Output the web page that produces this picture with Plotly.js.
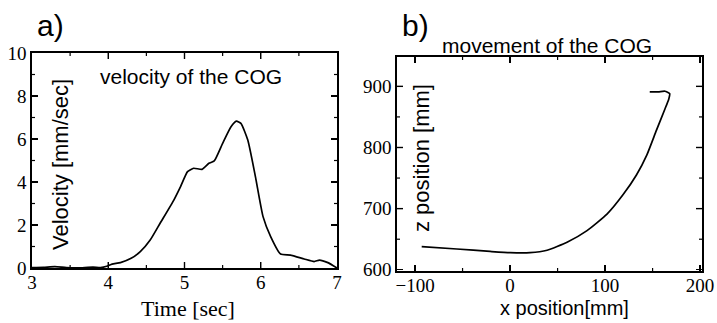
<!DOCTYPE html>
<html>
<head>
<meta charset="utf-8">
<script src="https://cdn.plot.ly/plotly-3.0.1.min.js"></script>
<style>html,body{margin:0;padding:0;background:#fff;}#chart{width:717px;height:323px;}</style>
</head>
<body>
<div id="chart"></div>
<script>
// Panel a: velocity of the COG
const timeSec = [3.0, 3.15, 3.3, 3.45, 3.6, 3.8, 3.9, 3.98, 4.05, 4.16, 4.3, 4.42, 4.55, 4.68, 4.86, 4.95, 5.04, 5.12, 5.23, 5.32, 5.39, 5.5, 5.61, 5.68, 5.74, 5.83, 5.93, 6.03, 6.13, 6.26, 6.39, 6.57, 6.7, 6.77, 6.88, 7.0];
const velocity = [0.02, 0.03, 0.06, 0.02, 0.01, 0.04, 0.02, 0.08, 0.18, 0.25, 0.45, 0.76, 1.3, 2.08, 3.16, 3.8, 4.48, 4.64, 4.59, 4.87, 4.98, 5.8, 6.57, 6.83, 6.73, 5.95, 4.25, 2.39, 1.46, 0.65, 0.6, 0.42, 0.3, 0.37, 0.25, 0.0];
// Panel b: movement of the COG
const xPos = [-93, -56, -21, 0, 21, 39, 60, 81, 102, 119, 133, 144, 154, 163, 167, 168, 163, 156, 147];
const zPos = [638, 634, 630, 628, 628, 632, 645, 664, 691, 723, 755, 788, 828, 863, 879, 888, 892, 891, 891];
// Tick labels and minor tick positions
const xTicksA = [3, 4, 5, 6, 7];
const yTicksA = [0, 2, 4, 6, 8, 10];
const xMinorA = [3.5, 4.5, 5.5, 6.5];
const yMinorA = [1, 3, 5, 7, 9];
const xTicksB = [-100, 0, 100, 200];
const yTicksB = [600, 700, 800, 900];
const xMinorB = [-50, 50, 150];
const yMinorB = [650, 750, 850];

const serif = 'Liberation Serif, Times New Roman, serif';
const sans = 'Liberation Sans, Arial, sans-serif';
const W = 717, H = 323;
const boxA = {l: 32, r: 337, t: 53, b: 268};
const boxB = {l: 397, r: 702, t: 57, b: 271};

function axisBase(extra) {
  return Object.assign({
    showgrid: false, zeroline: false, showline: true, linecolor: '#000', linewidth: 1.6,
    mirror: 'allticks', ticks: 'inside', ticklen: 6, tickwidth: 1.4, tickcolor: '#000',
    tickfont: {family: serif, size: 19, color: '#000'}, automargin: false, fixedrange: true
  }, extra);
}

const traces = [
  {x: timeSec, y: velocity, xaxis: 'x', yaxis: 'y', mode: 'lines', line: {color: '#000', width: 1.7, shape: 'spline', smoothing: 0.5}, hoverinfo: 'skip'},
  {x: xPos, y: zPos, xaxis: 'x2', yaxis: 'y2', mode: 'lines', line: {color: '#000', width: 1.7, shape: 'spline', smoothing: 0.5}, hoverinfo: 'skip'}
];

function ann(text, x, y, font, size, angle) {
  return {text: text, xref: 'paper', yref: 'paper', x: x / W, y: (H - y) / H, xanchor: 'center', yanchor: 'middle',
    textangle: angle || 0, showarrow: false, font: {family: font, size: size, color: '#000'}};
}

// tick marks on all four sides (drawn through the axes' own scales)
function tickShapes(vals, axLetter, axName, otherName, lenPx, spanPx, width) {
  const f = lenPx / spanPx, out = [];
  vals.forEach(function (v) {
    [[0, f], [1, 1 - f]].forEach(function (seg) {
      const s = {type: 'line', layer: 'above', line: {color: '#000', width: width}};
      if (axLetter === 'x') {
        s.xref = axName; s.yref = otherName + ' domain'; s.x0 = v; s.x1 = v; s.y0 = seg[0]; s.y1 = seg[1];
      } else {
        s.yref = axName; s.xref = otherName + ' domain'; s.y0 = v; s.y1 = v; s.x0 = seg[0]; s.x1 = seg[1];
      }
      out.push(s);
    });
  });
  return out;
}

const hA = boxA.b - boxA.t, wA = boxA.r - boxA.l, hB = boxB.b - boxB.t, wB = boxB.r - boxB.l;
const shapes = [].concat(
  tickShapes(xTicksA.slice(1, -1), 'x', 'x', 'y', 6, hA, 1.4),
  tickShapes(xMinorA, 'x', 'x', 'y', 3, hA, 1.2),
  tickShapes(yTicksA.slice(1, -1), 'y', 'y', 'x', 6, wA, 1.4),
  tickShapes(yMinorA, 'y', 'y', 'x', 3, wA, 1.2),
  tickShapes(xTicksB.slice(0, -1), 'x', 'x2', 'y2', 6, hB, 1.4),
  tickShapes(xMinorB, 'x', 'x2', 'y2', 3, hB, 1.2),
  tickShapes(yTicksB.slice(1), 'y', 'y2', 'x2', 6, wB, 1.4),
  tickShapes(yMinorB, 'y', 'y2', 'x2', 3, wB, 1.2)
);

const layout = {
  width: W, height: H, margin: {l: 0, r: 0, t: 0, b: 0},
  paper_bgcolor: '#fff', plot_bgcolor: '#fff', showlegend: false,
  xaxis: axisBase({domain: [boxA.l/W, boxA.r/W], range: [3, 7], tickvals: xTicksA, anchor: 'y', ticklabelstandoff: -3}),
  yaxis: axisBase({domain: [(H-boxA.b)/H, (H-boxA.t)/H], range: [0, 10], tickvals: yTicksA, anchor: 'x'}),
  xaxis2: axisBase({domain: [boxB.l/W, boxB.r/W], range: [-119, 202], tickvals: xTicksB, anchor: 'y2', ticklabelstandoff: -3}),
  yaxis2: axisBase({domain: [(H-boxB.b)/H, (H-boxB.t)/H], range: [598, 948], tickvals: yTicksB, anchor: 'x2'}),
  shapes: shapes,
  annotations: [
    ann('a)', 50, 25, sans, 30),
    ann('b)', 415, 25, sans, 30),
    ann('velocity of the COG', 191, 77, sans, 21),
    ann('movement of the COG', 547, 45, sans, 21),
    ann('Velocity [mm/sec]', 60, 165, sans, 22, -90),
    ann('z position [mm]', 421, 158, sans, 22, -90),
    ann('Time [sec]', 188, 308, serif, 22),
    ann('x position[mm]', 564, 308, sans, 20)
  ]
};

Plotly.newPlot('chart', traces, layout, {displayModeBar: false, staticPlot: true});
</script>
</body>
</html>
